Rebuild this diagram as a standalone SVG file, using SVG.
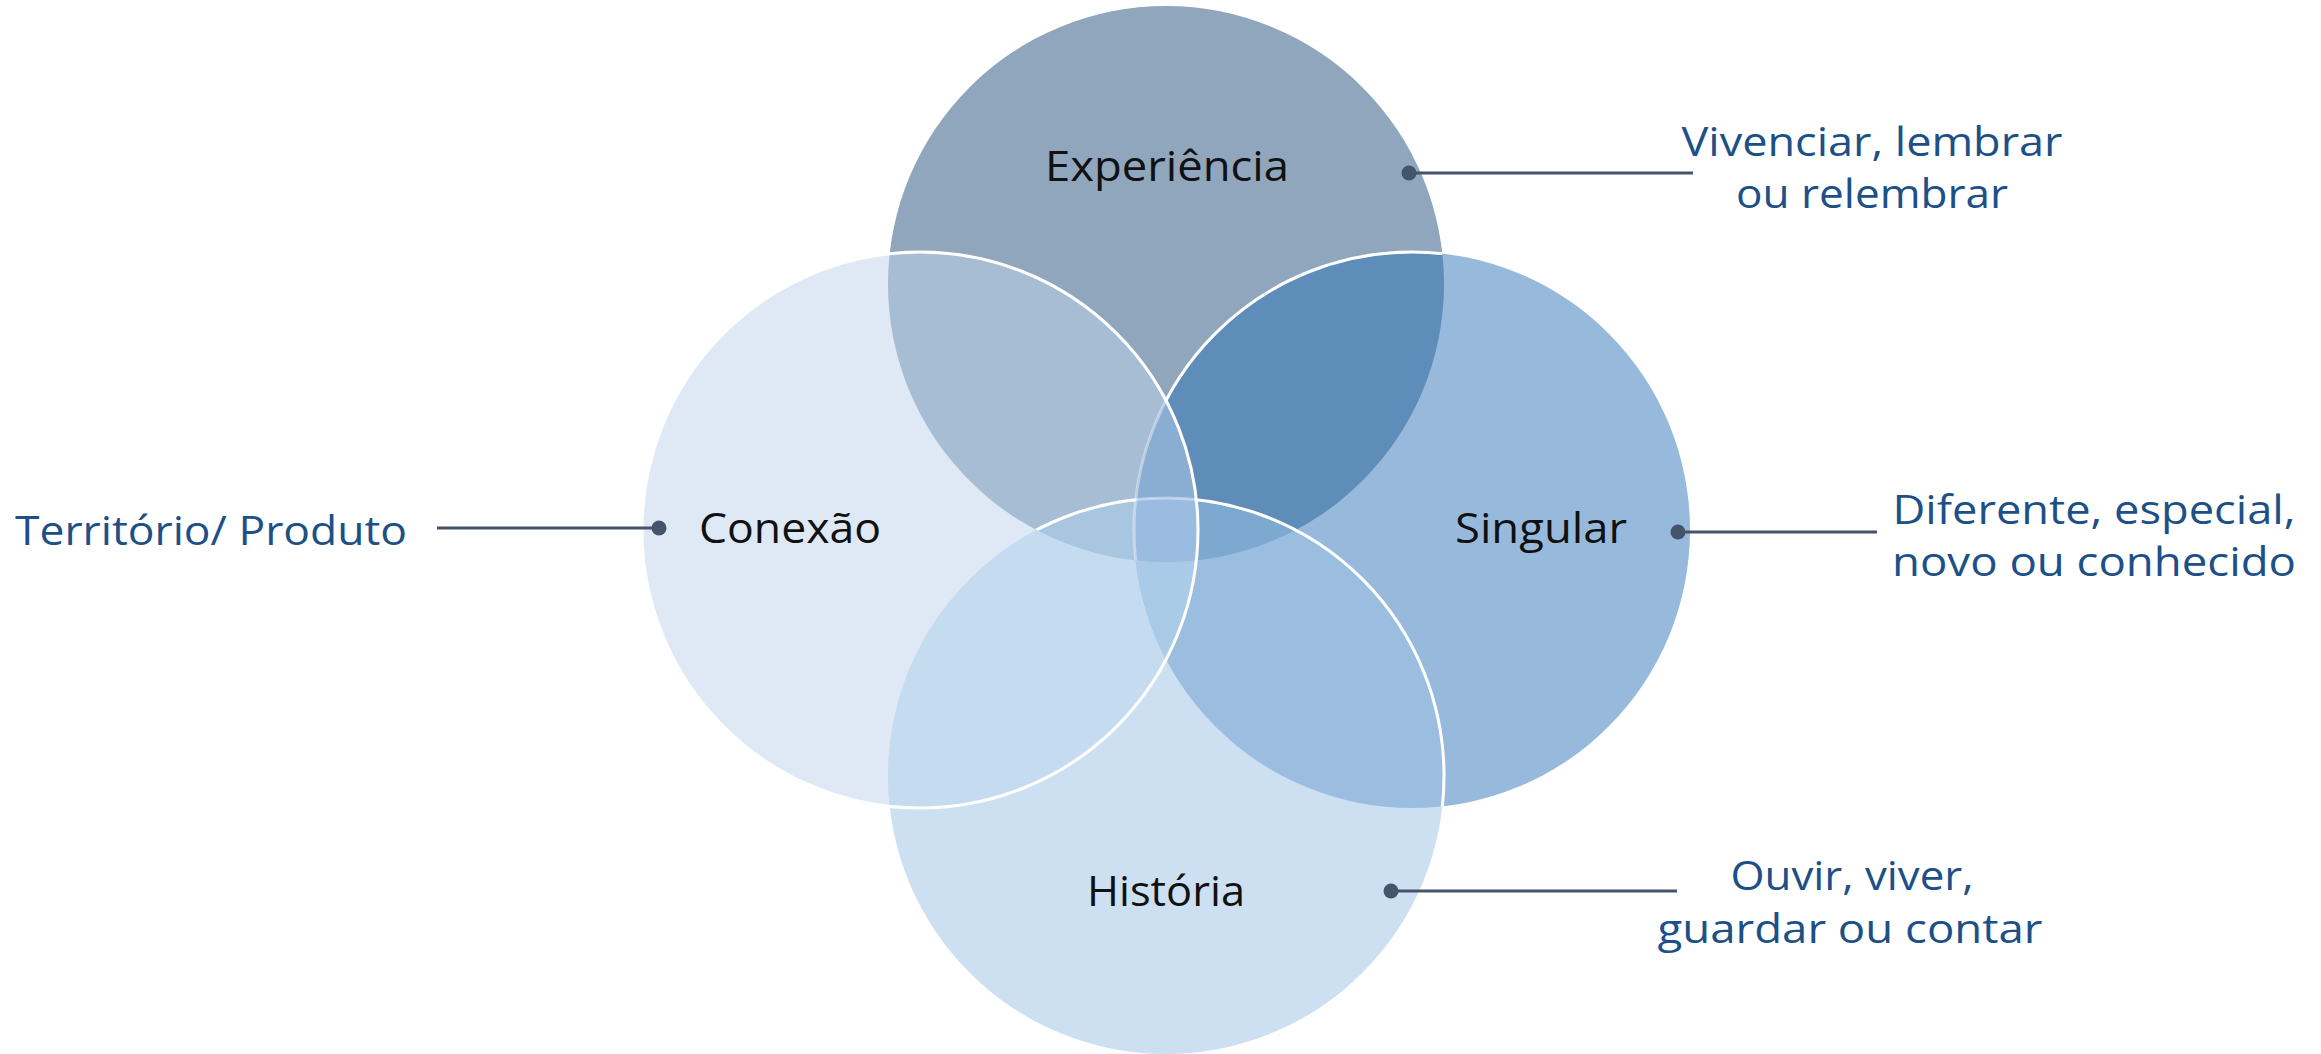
<svg xmlns="http://www.w3.org/2000/svg" width="2321" height="1054" viewBox="0 0 2321 1054">
  <style>
    .lbl { font-family: "Open Sans", "Liberation Sans", sans-serif; font-size: 42px; fill: #111111; }
    .note { font-family: "Open Sans", "Liberation Sans", sans-serif; font-size: 40px; fill: #1C5087; }
    .conn { stroke: #44546A; stroke-width: 3; fill: none; }
    .dot { fill: #44546A; }
    .ws { fill: none; stroke: #FFFFFF; stroke-width: 3; }
  </style>
  <defs>
    <clipPath id="cE"><circle cx="1166" cy="284" r="278"/></clipPath>
    <clipPath id="cC"><circle cx="920" cy="530" r="278"/></clipPath>
    <clipPath id="cS"><circle cx="1412" cy="530" r="278"/></clipPath>
    <clipPath id="cH"><circle cx="1166" cy="776" r="278"/></clipPath>
    <clipPath id="cES"><circle cx="1166" cy="284" r="278"/><circle cx="1412" cy="530" r="278"/></clipPath>
    <clipPath id="notC"><path clip-rule="evenodd" d="M0 0H2321V1054H0Z M642 530a278 278 0 1 0 556 0a278 278 0 1 0 -556 0Z"/></clipPath>
    <clipPath id="notS"><path clip-rule="evenodd" d="M0 0H2321V1054H0Z M1134 530a278 278 0 1 0 556 0a278 278 0 1 0 -556 0Z"/></clipPath>
  </defs>
  <rect width="2321" height="1054" fill="#FFFFFF"/>

  <g id="node-experiencia">
    <circle cx="1166" cy="284" r="278" fill="#8FA6BD"/>
  </g>
  <g id="node-conexao">
    <circle cx="920" cy="530" r="278" fill="#DEE9F5"/>
  </g>
  <g id="node-singular">
    <circle cx="1412" cy="530" r="278" fill="#97BADC"/>
  </g>
  <g id="node-historia">
    <circle cx="1166" cy="776" r="278" fill="#CDE0F2"/>
  </g>

  <g id="overlaps">
    <g clip-path="url(#cE)"><circle cx="920" cy="530" r="278" fill="#A7BDD4"/></g>
    <g clip-path="url(#cE)"><circle cx="1412" cy="530" r="278" fill="#5E8DB9"/></g>
    <g clip-path="url(#cE)"><circle cx="1166" cy="776" r="278" fill="#7FA0C0"/></g>
    <g clip-path="url(#cC)"><circle cx="1412" cy="530" r="278" fill="#90B5DA"/></g>
    <g clip-path="url(#cC)"><circle cx="1166" cy="776" r="278" fill="#C5DBEF"/></g>
    <g clip-path="url(#cS)"><circle cx="1166" cy="776" r="278" fill="#9BBEE0"/></g>
    <g clip-path="url(#cE)"><g clip-path="url(#cC)"><circle cx="1412" cy="530" r="278" fill="#8AAED3"/></g></g>
    <g clip-path="url(#cE)"><g clip-path="url(#cC)"><circle cx="1166" cy="776" r="278" fill="#A9C6E0"/></g></g>
    <g clip-path="url(#cE)"><g clip-path="url(#cS)"><circle cx="1166" cy="776" r="278" fill="#7DA8D0"/></g></g>
    <g clip-path="url(#cC)"><g clip-path="url(#cS)"><circle cx="1166" cy="776" r="278" fill="#AACBE8"/></g></g>
    <g clip-path="url(#cE)"><g clip-path="url(#cC)"><g clip-path="url(#cS)"><circle cx="1166" cy="776" r="278" fill="#99BCE0"/></g></g></g>
  </g>

  <g id="outlines">
    <g clip-path="url(#cE)"><g clip-path="url(#notC)"><circle class="ws" cx="1412" cy="530" r="278"/></g></g>
    <g clip-path="url(#cE)"><g clip-path="url(#cC)"><circle class="ws" cx="1412" cy="530" r="278" stroke-opacity="0.4"/></g></g>
    <g clip-path="url(#cES)"><g clip-path="url(#notS)"><circle class="ws" cx="1166" cy="776" r="278"/></g></g>
    <g clip-path="url(#cES)"><g clip-path="url(#notC)"><circle class="ws" cx="1166" cy="776" r="278"/></g></g>
    <g clip-path="url(#cC)"><g clip-path="url(#cS)"><circle class="ws" cx="1166" cy="776" r="278" stroke-opacity="0.4"/></g></g>
    <circle class="ws" cx="920" cy="530" r="278"/>
  </g>

  <g id="node-labels">
    <text class="lbl" x="1167" y="181" text-anchor="middle" textLength="244" lengthAdjust="spacingAndGlyphs">Experiência</text>
    <text class="lbl" x="790" y="543" text-anchor="middle" textLength="182" lengthAdjust="spacingAndGlyphs">Conexão</text>
    <text class="lbl" x="1541" y="543" text-anchor="middle" textLength="172" lengthAdjust="spacingAndGlyphs">Singular</text>
    <text class="lbl" x="1166" y="906" text-anchor="middle" textLength="158" lengthAdjust="spacingAndGlyphs">História</text>
  </g>

  <g id="connectors">
    <line class="conn" x1="1409" y1="173" x2="1693" y2="173"/>
    <circle class="dot" cx="1409" cy="173" r="7.5"/>
    <line class="conn" x1="437" y1="528" x2="659" y2="528"/>
    <circle class="dot" cx="659" cy="528" r="7.5"/>
    <line class="conn" x1="1678" y1="532" x2="1877" y2="532"/>
    <circle class="dot" cx="1678" cy="532" r="7.5"/>
    <line class="conn" x1="1391" y1="891" x2="1677" y2="891"/>
    <circle class="dot" cx="1391" cy="891" r="7.5"/>
  </g>

  <g id="notes">
    <text class="note" x="1872" y="156" text-anchor="middle" textLength="381" lengthAdjust="spacingAndGlyphs">Vivenciar, lembrar</text>
    <text class="note" x="1872" y="208" text-anchor="middle" textLength="272" lengthAdjust="spacingAndGlyphs">ou relembrar</text>
    <text class="note" x="211" y="545" text-anchor="middle" textLength="392" lengthAdjust="spacingAndGlyphs">Território/ Produto</text>
    <text class="note" x="2094" y="524" text-anchor="middle" textLength="403" lengthAdjust="spacingAndGlyphs">Diferente, especial,</text>
    <text class="note" x="2094" y="576" text-anchor="middle" textLength="404" lengthAdjust="spacingAndGlyphs">novo ou conhecido</text>
    <text class="note" x="1852" y="890" text-anchor="middle" textLength="243" lengthAdjust="spacingAndGlyphs">Ouvir, viver,</text>
    <text class="note" x="1850" y="943" text-anchor="middle" textLength="385" lengthAdjust="spacingAndGlyphs">guardar ou contar</text>
  </g>
</svg>
